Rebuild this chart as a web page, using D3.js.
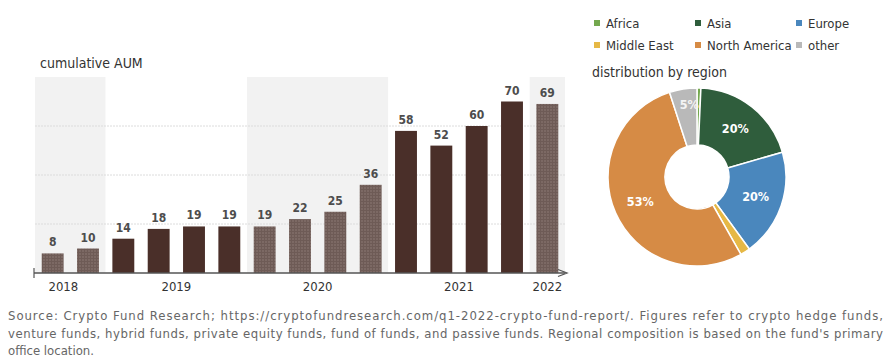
<!DOCTYPE html>
<html>
<head>
<meta charset="utf-8">
<script src="https://cdn.jsdelivr.net/npm/d3@7"></script>
<style>
  body { margin: 0; background: #fff; }
  svg { display: block; }
  text { font-family: "Liberation Sans Narrow", "DejaVu Sans Condensed", "Open Sans", sans-serif; }
</style>
</head>
<body>
<svg id="chart" width="887" height="358"></svg>
<script>
// quarters shown in the bar chart, with the year each belongs to
var quarters = ["18Q3","18Q4","19Q1","19Q2","19Q3","19Q4","20Q1","20Q2","20Q3","20Q4","21Q1","21Q2","21Q3","21Q4","22Q1"];
var quarterYear = ["2018","2018","2019","2019","2019","2019","2020","2020","2020","2020","2021","2021","2021","2021","2022"];
var aum = [8, 10, 14, 18, 19, 19, 19, 22, 25, 36, 58, 52, 60, 70, 69];
var years = ["2018","2019","2020","2021","2022"];
var shadedYears = ["2018","2020","2022"];
var yTicks = [20, 40, 60];

// regions for the donut
var regions = ["Africa","Asia","Europe","Middle East","North America","other"];
var regionShare = [0.7, 19.8, 19.5, 1.8, 53.2, 5];
var regionLabels = ["", "20%", "20%", "", "53%", "5%"];
var regionColours = ["#74a84e", "#2f5d3c", "#4a87bd", "#e6b845", "#d68b45", "#b9b9b9"];

var footLines = [
  "Source: Crypto Fund Research; https://cryptofundresearch.com/q1-2022-crypto-fund-report/. Figures refer to crypto hedge funds,",
  "venture funds, hybrid funds, private equity funds, fund of funds, and passive funds. Regional composition is based on the fund's primary",
  "office location."
];

var svg = d3.select("#chart");
var defs = svg.append("defs");

// grainy fill for the light bars
var pat = defs.append("pattern")
  .attr("id", "grain")
  .attr("width", 3).attr("height", 3)
  .attr("patternUnits", "userSpaceOnUse");
pat.append("rect").attr("width", 3).attr("height", 3).attr("fill", "#7c6964");
pat.append("rect").attr("width", 1).attr("height", 3).attr("fill", "#6e5b56");
pat.append("rect").attr("width", 3).attr("height", 1).attr("fill", "#6e5b56");

// ---- bar chart ----
var slot = d3.scaleBand().domain(quarters).range([35, 565]).padding(0);
var y = d3.scaleLinear().domain([0, 80]).range([273, 77]);

function yearExtent(yr) {
  var qs = quarters.filter(function(q, i) { return quarterYear[i] === yr; });
  var x0 = slot(qs[0]);
  var x1 = slot(qs[qs.length - 1]) + slot.bandwidth();
  return [x0, x1];
}

svg.append("g").selectAll("rect")
  .data(years)
  .enter()
  .append("rect")
  .attr("x", function(d) { return yearExtent(d)[0]; })
  .attr("width", function(d) { return yearExtent(d)[1] - yearExtent(d)[0]; })
  .attr("y", y(80))
  .attr("height", y(0) - y(80))
  .attr("fill", function(d) { return shadedYears.indexOf(d) >= 0 ? "#f2f2f2" : "#ffffff"; });

svg.append("g").selectAll("line")
  .data(yTicks)
  .enter()
  .append("line")
  .attr("x1", 35).attr("x2", 565)
  .attr("y1", function(d) { return y(d); })
  .attr("y2", function(d) { return y(d); })
  .attr("stroke", "#dcdcdc")
  .attr("stroke-dasharray", "2,1");

var bw = slot.bandwidth() * 0.62;
svg.append("g").selectAll("rect")
  .data(aum)
  .enter()
  .append("rect")
  .attr("x", function(d, i) { return slot(quarters[i]) + (slot.bandwidth() - bw) / 2; })
  .attr("width", bw)
  .attr("y", function(d) { return y(d); })
  .attr("height", function(d) { return y(0) - y(d); })
  .attr("fill", function(d, i) {
    return shadedYears.indexOf(quarterYear[i]) >= 0 ? "url(#grain)" : "#4a2f29";
  });

svg.append("g").selectAll("text")
  .data(aum)
  .enter()
  .append("text")
  .attr("x", function(d, i) { return slot(quarters[i]) + slot.bandwidth() / 2; })
  .attr("y", function(d) { return y(d) - 7; })
  .attr("text-anchor", "middle")
  .attr("font-size", 12)
  .attr("font-weight", "bold")
  .attr("fill", "#4d4d4d")
  .text(function(d) { return d; });

// baseline with arrow
svg.append("line")
  .attr("x1", 34).attr("x2", 565)
  .attr("y1", y(0)).attr("y2", y(0))
  .attr("stroke", "#555").attr("stroke-width", 1.5);
svg.append("line")
  .attr("x1", 34).attr("x2", 34)
  .attr("y1", y(0) - 5).attr("y2", y(0) + 5)
  .attr("stroke", "#555").attr("stroke-width", 1.2);
svg.append("path")
  .attr("d", "M558," + (y(0) - 3.5) + " L567," + y(0) + " L558," + (y(0) + 3.5))
  .attr("fill", "none").attr("stroke", "#555").attr("stroke-width", 1.3);

svg.append("g").selectAll("text")
  .data(years)
  .enter()
  .append("text")
  .attr("x", function(d) { var e = yearExtent(d); return (e[0] + e[1]) / 2 - (d === "2018" ? 7 : 0); })
  .attr("y", 291)
  .attr("text-anchor", "middle")
  .attr("font-size", 13)
  .attr("fill", "#333")
  .text(function(d) { return d; });

svg.append("text")
  .attr("x", 40).attr("y", 68)
  .attr("font-size", 14)
  .attr("fill", "#333")
  .text("cumulative AUM");

// ---- donut ----
var pie = d3.pie().sort(null).value(function(d) { return d; });
var arcs = pie(regionShare);
var arc = d3.arc().innerRadius(32).outerRadius(89);
var donut = svg.append("g").attr("transform", "translate(697,177)");

donut.selectAll("path")
  .data(arcs)
  .enter()
  .append("path")
  .attr("d", arc)
  .attr("fill", function(d, i) { return regionColours[i]; })
  .attr("stroke", "#fff")
  .attr("stroke-width", 1.5);

var labelArc = d3.arc().innerRadius(62).outerRadius(62);
donut.selectAll("text")
  .data(arcs)
  .enter()
  .append("text")
  .attr("transform", function(d, i) {
    var c = labelArc.centroid(d);
    if (i === 5) c = [c[0] + 2, c[1] - 11];
    return "translate(" + c[0] + "," + c[1] + ")";
  })
  .attr("text-anchor", "middle")
  .attr("dy", "0.35em")
  .attr("font-size", 12.5)
  .attr("font-weight", "bold")
  .attr("fill", function(d, i) { return i === 5 ? "#f4f4f4" : "#fff"; })
  .text(function(d, i) { return regionLabels[i]; });

// legend
var legend = svg.append("g").selectAll("g")
  .data(regions)
  .enter()
  .append("g")
  .attr("transform", function(d, i) {
    return "translate(" + (594 + (i % 3) * 101) + "," + (23 + Math.floor(i / 3) * 22) + ")";
  });
legend.append("rect")
  .attr("x", 0).attr("y", -3).attr("width", 6).attr("height", 6)
  .attr("fill", function(d, i) { return regionColours[i]; });
legend.append("text")
  .attr("x", 12).attr("y", 4.5)
  .attr("font-size", 13)
  .attr("fill", "#333")
  .text(function(d) { return d; });

svg.append("text")
  .attr("x", 592).attr("y", 77)
  .attr("font-size", 14)
  .attr("fill", "#333")
  .text("distribution by region");

// footnote
svg.append("g").selectAll("text")
  .data(footLines)
  .enter()
  .append("text")
  .attr("x", 8)
  .attr("y", function(d, i) { return 320 + i * 17.5; })
  .attr("font-size", 13)
  .attr("fill", "#666")
  .each(function(d, i) {
    if (i < 2) d3.select(this).attr("textLength", 875).attr("lengthAdjust", "spacing");
  })
  .text(function(d) { return d; });
</script>
</body>
</html>
